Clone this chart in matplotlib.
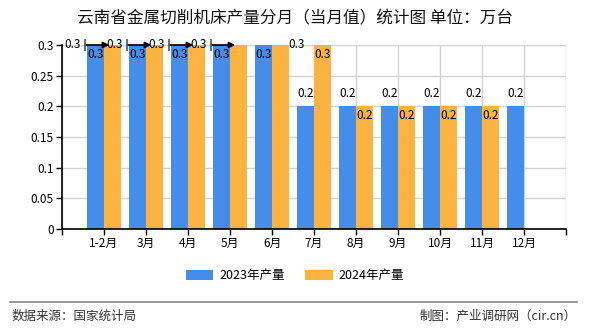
import matplotlib
matplotlib.use("Agg")
import matplotlib.pyplot as plt
import numpy as np

plt.rcParams['font.family'] = ['Noto Sans CJK SC', 'DejaVu Sans']

categories = ["1-2月", "3月", "4月", "5月", "6月", "7月", "8月", "9月", "10月", "11月", "12月"]
values_2023 = [0.3, 0.3, 0.3, 0.3, 0.3, 0.2, 0.2, 0.2, 0.2, 0.2, 0.2]
values_2024 = [0.3, 0.3, 0.3, 0.3, 0.3, 0.3, 0.2, 0.2, 0.2, 0.2, None]
yticks = [0, 0.05, 0.1, 0.15, 0.2, 0.25, 0.3]
ytick_labels = ["0", "0.05", "0.1", "0.15", "0.2", "0.25", "0.3"]
series_names = ["2023年产量", "2024年产量"]

# label placement per bar: 'in' inside top, 'up' above, 'left' displaced with leader, 'right' displaced
place_2023 = ['in'] * 5 + ['up'] * 6
place_2024 = ['left'] * 4 + ['right', 'in', 'in', 'in', 'in', 'in', None]

c_blue = '#448DEB'
c_orange = '#FCB33F'

fig = plt.figure(figsize=(5.9, 3.3), dpi=100)
ax = fig.add_axes([62/590, 1-229/330, 504/590, 184/330])

x = np.arange(1, len(categories) + 1)
w = 0.41
v24 = np.array([np.nan if v is None else v for v in values_2024], dtype=float)
b1 = ax.bar(x - w/2, values_2023, width=w, color=c_blue, label=series_names[0], zorder=2)
b2 = ax.bar(x + w/2, v24, width=w, color=c_orange, label=series_names[1], zorder=2)

ax.set_xlim(0, 12)
ax.set_ylim(0, 0.3)
ax.set_yticks(yticks)
ax.set_yticklabels(ytick_labels, fontsize=8.5)
ax.set_xticks(np.arange(0, 13))
ax.set_xticklabels([''] + categories + [''], fontsize=8.5)
ax.tick_params(axis='both', direction='out', length=4, width=1, color='black', pad=2)
ax.grid(True, color='#d3d3d3', lw=1, zorder=0)
for s in ['top', 'right']:
    ax.spines[s].set_visible(False)
for s in ['left', 'bottom']:
    ax.spines[s].set_color('black')
    ax.spines[s].set_linewidth(1.2)

lab_fs = 8.5
def put(xc, v, mode):
    if mode is None or v is None or np.isnan(v):
        return
    txt = f"{v:.1f}"
    if mode == 'in':
        ax.annotate(txt, (xc, v), xytext=(0, -6.5), textcoords='offset points',
                    ha='center', va='center', fontsize=lab_fs, zorder=5, annotation_clip=False)
    elif mode == 'up':
        ax.annotate(txt, (xc, v), xytext=(0, 9), textcoords='offset points',
                    ha='center', va='center', fontsize=lab_fs, zorder=5, annotation_clip=False)
    elif mode == 'left':
        lx = xc - 0.95
        ax.annotate('', xy=(lx + 0.87, v), xytext=(lx + 0.3, v),
                    arrowprops=dict(arrowstyle='-|>', color='black', lw=1.2,
                                    shrinkA=0, shrinkB=0, mutation_scale=9),
                    annotation_clip=False, zorder=4)
        ax.plot([lx + 0.3], [v], marker='|', markersize=8, color='#555555', mew=1.2,
                clip_on=False, zorder=4)
        ax.text(lx, v, txt, ha='center', va='center', fontsize=lab_fs, zorder=5, clip_on=False)
    elif mode == 'right':
        ax.text(xc + 0.38, v, txt, ha='center', va='center', fontsize=lab_fs, zorder=5, clip_on=False)

for xi, v, m in zip(x - w/2, values_2023, place_2023):
    put(xi, v, m)
for xi, v, m in zip(x + w/2, v24, place_2024):
    put(xi, v, m)

fig.text(0.5, 1-19/330, "云南省金属切削机床产量分月（当月值）统计图 单位：万台",
         ha='center', va='center', fontsize=12, color='#111111')

leg = fig.legend(handles=[b1, b2], labels=series_names, loc='center', bbox_to_anchor=(0.5, 1-276/330),
                 ncol=2, frameon=False, fontsize=9, handlelength=2.2, handleheight=0.9,
                 columnspacing=1.6, handletextpad=0.5)

fig.add_artist(plt.Line2D([10/590, 577/590], [1-302/330, 1-302/330], color='#888888', lw=1.2))
fig.text(12/590, 1-316/330, "数据来源：国家统计局", ha='left', va='center', fontsize=9, color='#333333')
fig.text(577/590, 1-316/330, "制图：产业调研网（cir.cn）", ha='right', va='center', fontsize=9, color='#333333')

fig.savefig("out.png", dpi=100)
